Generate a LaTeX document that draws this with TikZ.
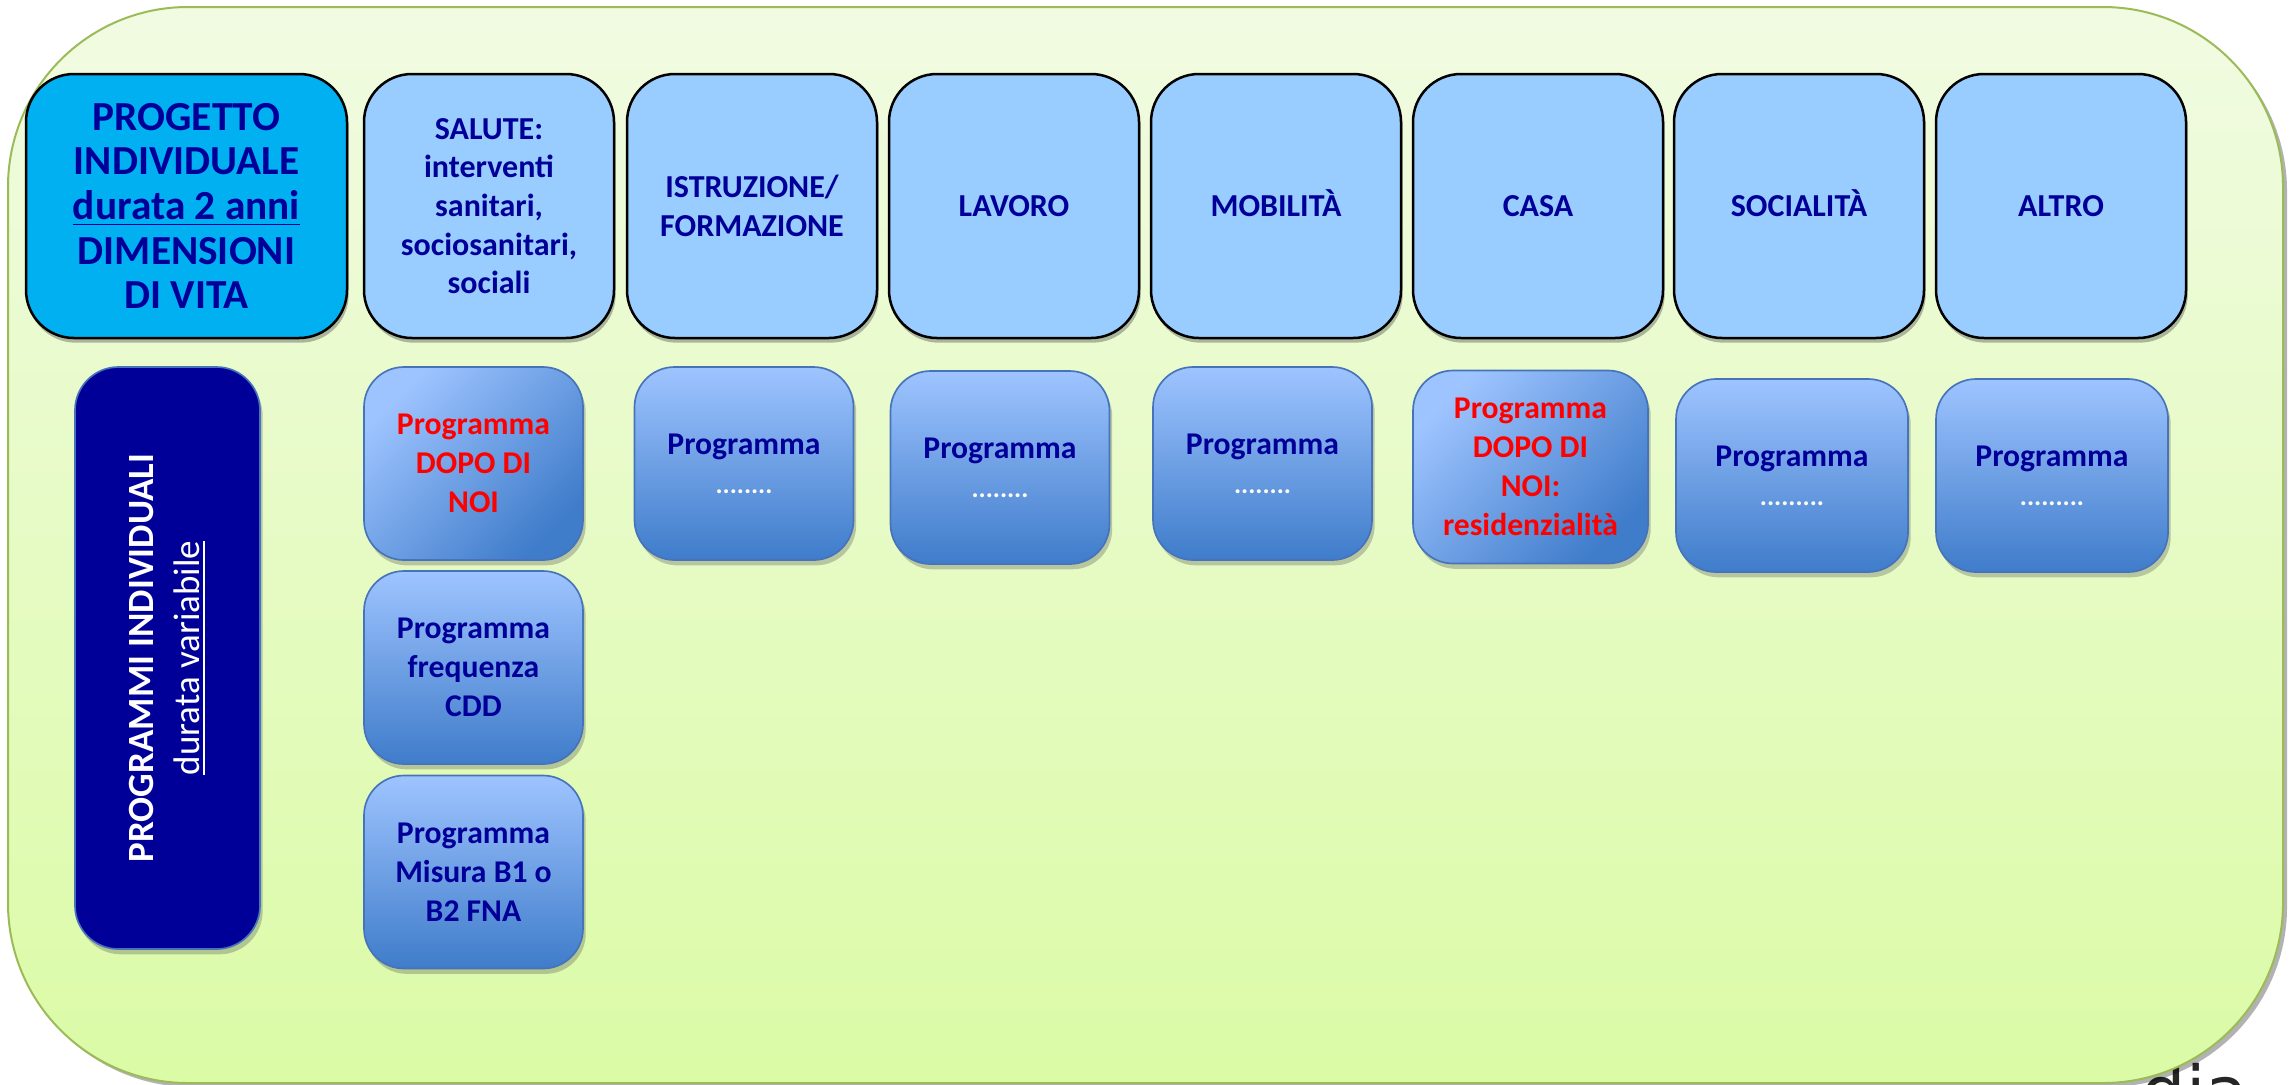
\documentclass[tikz,border=0pt]{standalone}
\usepackage{fontspec}
\setmainfont{Carlito}
\newfontfamily\diafont{DejaVu Sans}
\usetikzlibrary{shadows}
\definecolor{navytxt}{RGB}{0,0,153}
\definecolor{redtxt}{RGB}{255,0,0}
\definecolor{progettofill}{RGB}{0,176,240}
\definecolor{headfill}{RGB}{153,204,255}
\definecolor{progtop}{RGB}{158,196,255}
\definecolor{progbot}{RGB}{63,124,202}
\definecolor{progborder}{RGB}{70,115,185}
\definecolor{outertop}{RGB}{241,251,226}
\definecolor{outerbot}{RGB}{219,251,166}
\definecolor{outerline}{RGB}{155,187,89}
\tikzset{
  outerbox/.style={draw=outerline, line width=0.6pt, top color=outertop, bottom color=outerbot,
    rounded corners=54pt, drop shadow={shadow xshift=1.2pt, shadow yshift=-1.2pt, opacity=0.3, fill=black}},
  headbox/.style={draw=black, line width=0.75pt, fill=headfill, rounded corners=14.4pt,
    minimum width=75pt, minimum height=79.2pt, inner sep=0pt, align=center, text=navytxt,
    font=\fontsize{9.6}{11.6}\selectfont\bfseries,
    drop shadow={shadow xshift=0.5pt, shadow yshift=-1.4pt, opacity=0.4, fill=black!70}},
  oneline/.style={text height=6.2pt, text depth=0pt},
  progbox/.style={draw=progborder, line width=0.5pt, top color=progtop, bottom color=progbot,
    rounded corners=12pt, minimum width=65.7pt, minimum height=57.9pt, inner sep=0pt,
    align=center, text=navytxt, font=\fontsize{9.5}{11.7}\selectfont\bfseries,
    drop shadow={shadow xshift=0.8pt, shadow yshift=-1.6pt, opacity=0.3, fill=black!70}},
  progred/.style={progbox, shading angle=45, text=redtxt}
}
\newcommand{\dotline}[1]{{\fontsize{8}{11.7}\selectfont\color{white}#1}}
\begin{document}
\begin{tikzpicture}[x=0.3pt,y=-0.3pt]
\path[use as bounding box] (0,0) rectangle (2295,1084);
% partial text behind the frame
\node[anchor=base east, inner sep=0pt, font=\diafont\fontsize{21}{21}\selectfont, text=black!85] (dia) at (2249,1116) {dia};
% outer frame
\draw[outerbox] (8,7) rectangle (2283,1083);
% header row
\node[headbox, fill=progettofill, minimum width=96.3pt, font=\fontsize{12.4}{13.4}\selectfont\bfseries] (hProg) at (186.5,206)
  {PROGETTO\\INDIVIDUALE\\\underline{durata 2 anni}\\DIMENSIONI\\DI VITA};
\node[headbox] (hSal) at (489,206) {SALUTE:\\interventi\\sanitari,\\sociosanitari,\\sociali};
\node[headbox] (hIst) at (752,206) {ISTRUZIONE/\\FORMAZIONE};
\node[headbox, oneline] (hLav) at (1014,206) {LAVORO};
\node[headbox, oneline] (hMob) at (1276,206) {MOBILITÀ};
\node[headbox, oneline] (hCasa) at (1538,206) {CASA};
\node[headbox, oneline] (hSoc) at (1799,206) {SOCIALITÀ};
\node[headbox, oneline] (hAlt) at (2061,206) {ALTRO};
% programmi individuali
\node[draw=progborder, line width=0.5pt, fill=navytxt, rounded corners=13pt, minimum width=55.5pt,
  minimum height=174.6pt, inner sep=0pt,
  drop shadow={shadow xshift=0.8pt, shadow yshift=-1.6pt, opacity=0.3, fill=black!70}] (progInd) at (167.5,658) {};
\node[rotate=90, align=center, text=white, font=\fontsize{11.1}{13.8}\selectfont, inner sep=0pt] (progIndTxt) at (progInd.center)
  {\bfseries PROGRAMMI INDIVIDUALI\\\underline{durata variabile}};
% program boxes
\node[progred] (pSal1) at (473.5,463.5) {Programma\\DOPO DI\\NOI};
\node[progbox] (pSal2) at (473.5,667.5) {Programma\\frequenza\\CDD};
\node[progbox] (pSal3) at (473.5,872) {Programma\\Misura B1 o\\B2 FNA};
\node[progbox] (pIst) at (744,463.5) {Programma\\\dotline{........}};
\node[progbox] (pLav) at (1000,467.5) {Programma\\\dotline{........}};
\node[progbox] (pMob) at (1262.5,463.5) {Programma\\\dotline{........}};
\node[progred, minimum width=70.5pt] (pCasa) at (1530.5,467) {Programma\\DOPO DI\\NOI:\\residenzialità};
\node[progbox, minimum width=69.6pt] (pSoc) at (1792,475.5) {Programma\\\dotline{.........}};
\node[progbox, minimum width=69.6pt] (pAlt) at (2052,475.5) {Programma\\\dotline{.........}};
\end{tikzpicture}
\end{document}
